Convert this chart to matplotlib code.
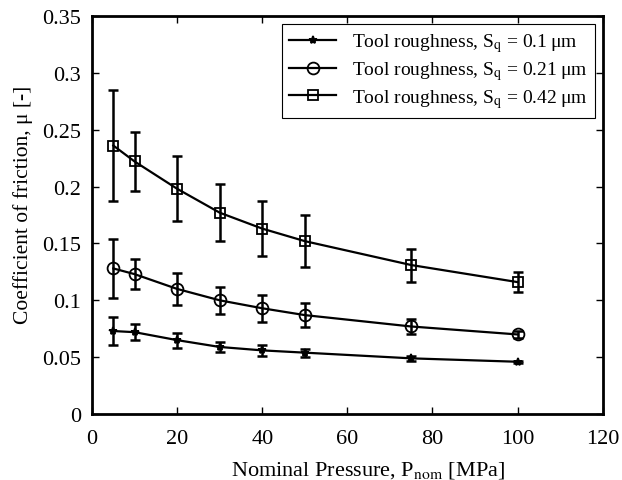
import matplotlib
matplotlib.use('Agg')
import matplotlib.pyplot as plt

plt.rcParams['font.family'] = 'Liberation Serif'
plt.rcParams['mathtext.fontset'] = 'stix'

pressure = [5, 10, 20, 30, 40, 50, 75, 100]

mu_01 = [0.073, 0.072, 0.065, 0.059, 0.056, 0.054, 0.049, 0.046]
err_01 = [0.012, 0.007, 0.0065, 0.0045, 0.0045, 0.0035, 0.002, 0.001]

mu_021 = [0.128, 0.123, 0.110, 0.100, 0.093, 0.087, 0.077, 0.070]
err_021 = [0.026, 0.013, 0.014, 0.012, 0.012, 0.0105, 0.0065, 0.003]

mu_042 = [0.236, 0.222, 0.198, 0.177, 0.163, 0.152, 0.131, 0.116]
err_042 = [0.049, 0.0255, 0.0285, 0.025, 0.024, 0.023, 0.0145, 0.0085]

labels = ['Tool roughness, S$_{\\mathrm{q}}$ = 0.1\u2009μm',
          'Tool roughness, S$_{\\mathrm{q}}$ = 0.21\u2009μm',
          'Tool roughness, S$_{\\mathrm{q}}$ = 0.42\u2009μm']

fig = plt.figure(figsize=(6.22, 4.81), dpi=100)
ax = fig.add_axes([0.148, 0.137, 0.821, 0.828])

series = [(mu_01, err_01, '*', 6, 'black'),
          (mu_021, err_021, 'o', 8.5, 'none'),
          (mu_042, err_042, 's', 6.5, 'none')]

for (mu, err, mk, ms, fc), lab in zip(series, labels):
    ax.errorbar(pressure, mu, yerr=err, fmt='none', ecolor='black',
                elinewidth=1.8, capsize=3.5, capthick=1.8)
    ax.plot(pressure, mu, color='black', lw=1.6, marker=mk, ms=ms,
            mfc=fc, mec='black', mew=1.3, label=lab)

ax.set_xlim(0, 120)
ax.set_ylim(0, 0.35)
ax.set_xticks(range(0, 121, 20))
ax.set_yticks([0, 0.05, 0.1, 0.15, 0.2, 0.25, 0.3, 0.35])
ax.set_yticklabels(['0', '0.05', '0.1', '0.15', '0.2', '0.25', '0.3', '0.35'])
ax.tick_params(direction='in', top=True, right=True, labelsize=16,
               length=5, width=1, pad=8)
ax.tick_params(axis='x', pad=11)
for s in ax.spines.values():
    s.set_linewidth(2)

ax.set_xlabel('Nominal Pressure, P$_{\\mathrm{nom}}$ [MPa]', fontsize=16)
ax.set_ylabel('Coefficient of friction, μ [-]', fontsize=15.5)
ax.xaxis.set_label_coords(0.54, -0.112)
ax.yaxis.set_label_coords(-0.115, 0.528)

leg = ax.legend(loc='upper right', fontsize=14, frameon=True, fancybox=False,
                edgecolor='black', framealpha=1, handlelength=2.4,
                borderaxespad=0.4, labelspacing=0.25)
leg.get_frame().set_linewidth(0.8)

fig.savefig('out.png', dpi=100)
